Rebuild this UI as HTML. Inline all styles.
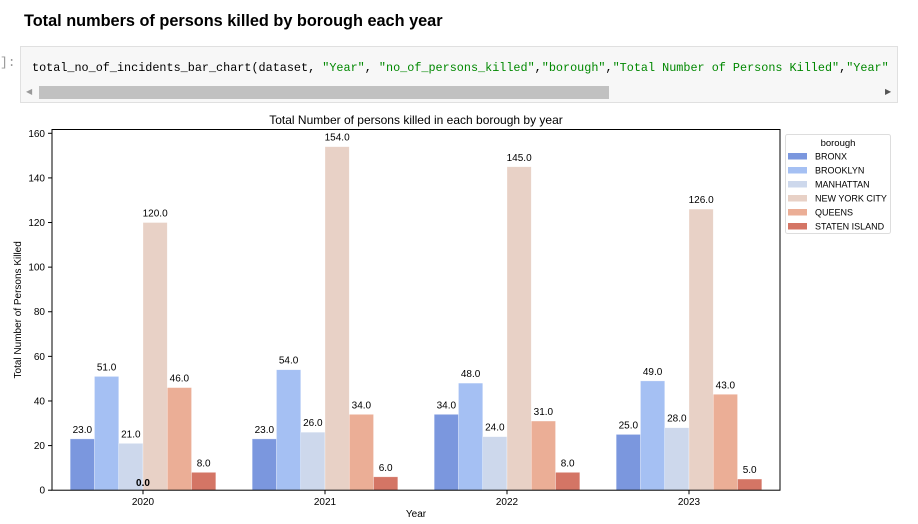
<!DOCTYPE html>
<html><head><meta charset="utf-8"><style>
body{margin:0;background:#fff;width:918px;height:524px;overflow:hidden;font-family:"Liberation Sans",sans-serif;}
</style></head><body>
<div style="position:absolute;left:24px;top:12px;font-size:16.3px;font-weight:bold;color:#000;">Total numbers of persons killed by borough each year</div>
<div style="position:absolute;left:0;top:55px;font-family:'Liberation Mono',monospace;font-size:13px;color:#999;">]:</div>
<div style="position:absolute;left:20px;top:46px;width:876px;height:55px;background:#f7f7f7;border:1px solid #e0e0e0;overflow:hidden;">
<div style="position:absolute;left:11px;top:14px;font-family:'Liberation Mono',monospace;font-size:11.8px;white-space:pre;color:#000;">total_no_of_incidents_bar_chart(dataset, <span style="color:#080">"Year"</span>, <span style="color:#080">"no_of_persons_killed"</span>,<span style="color:#080">"borough"</span>,<span style="color:#080">"Total Number of Persons Killed"</span>,<span style="color:#080">"Year"</span></div>
<div style="position:absolute;left:18px;top:39px;width:570px;height:13px;background:#c1c1c1;"></div>
<div style="position:absolute;left:5px;top:40px;font-size:8px;color:#999;">◀</div>
<div style="position:absolute;left:864px;top:40px;font-size:8px;color:#555;">▶</div>
</div>
<svg id="chart" width="918" height="524" style="position:absolute;left:0;top:0" font-family="Liberation Sans, sans-serif"></svg>
<script>
const years=["2020","2021","2022","2023"];
const boroughs=["BRONX","BROOKLYN","MANHATTAN","NEW YORK CITY","QUEENS","STATEN ISLAND"];
const bronx=[23,23,34,25];
const brooklyn=[51,54,48,49];
const manhattan=[21,26,24,28];
const nyc=[120,154,145,126];
const queens=[46,34,31,43];
const staten=[8,6,8,5];
const yTicks=[0,20,40,60,80,100,120,140,160];
const series=[bronx,brooklyn,manhattan,nyc,queens,staten];
const colors=["#7b97de","#a5c0f3","#cdd8ec","#e8d1c6","#ebae96","#d47565"];
const L=52,R=780,T=129.5,B=490.2,ymax=161.7;
const svg=document.getElementById('chart');const NS="http://www.w3.org/2000/svg";
function y(v){return B-(B-T)*v/ymax;}
const step=(R-L)/years.length;
function xc(i){return L+step*(i+0.5);}
const bw=step*0.8/boroughs.length;
function mk(t,a,txt){const e=document.createElementNS(NS,t);for(const k in a)e.setAttribute(k,a[k]);if(txt!==undefined)e.textContent=txt;svg.appendChild(e);return e;}
let e=mk('text',{x:(L+R)/2,y:124,'text-anchor':'middle','font-size':12,fill:'#000'},'Total Number of persons killed in each borough by year');


series.forEach((s,j)=>{s.forEach((v,i)=>{const x=xc(i)-step*0.4+bw*j;
const r=mk('rect',{x:x,y:y(v),width:bw,height:B-y(v),fill:colors[j],stroke:'#fff','stroke-width':0.6,'stroke-opacity':0.5});


const t=mk('text',{x:x+bw/2,y:y(v)-6,'text-anchor':'middle','font-size':10,fill:'#000'},v.toFixed(1));


});});
e=mk('text',{x:xc(0),y:B-4,'text-anchor':'middle','font-size':10,'font-weight':'bold',fill:'#000'},'0.0');


e=mk('rect',{x:L,y:T,width:R-L,height:B-T,fill:'none',stroke:'#000','stroke-width':1});


yTicks.forEach(v=>{mk('line',{x1:L-4,x2:L,y1:y(v),y2:y(v),stroke:'#000'});
const t=mk('text',{x:L-7,y:y(v)+3.5,'text-anchor':'end','font-size':10,fill:'#000'},String(v));

});
years.forEach((yr,i)=>{mk('line',{x1:xc(i),x2:xc(i),y1:B,y2:B+4,stroke:'#000'});
const t=mk('text',{x:xc(i),y:B+15,'text-anchor':'middle','font-size':10,fill:'#000'},yr);

});
e=mk('text',{x:(L+R)/2,y:517,'text-anchor':'middle','font-size':10,fill:'#000'},'Year');


e=mk('text',{x:0,y:0,'text-anchor':'middle','font-size':10,fill:'#000',transform:'translate(21,'+((T+B)/2)+') rotate(-90)'},'Total Number of Persons Killed');


e=mk('rect',{x:785.5,y:134.5,width:105,height:99,fill:'#fff',stroke:'#ddd',rx:2});


mk('text',{x:838,y:146,'text-anchor':'middle','font-size':9.5,fill:'#000'},'borough');
boroughs.forEach((b,j)=>{const yy=156+14*j;
const r=mk('rect',{x:788,y:yy-3,width:19,height:6.5,fill:colors[j]});


const t=mk('text',{x:815,y:yy+3.5,'font-size':9,fill:'#000'},b);

});
</script>
</body></html>
